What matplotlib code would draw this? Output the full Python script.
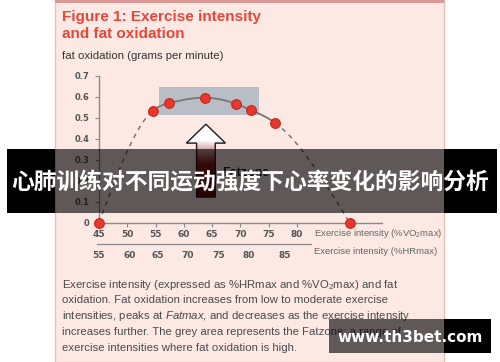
import numpy as np
import matplotlib
matplotlib.use('Agg')
import matplotlib.pyplot as plt
from matplotlib import font_manager
from matplotlib.patches import Rectangle, FancyArrow
from matplotlib.colors import LinearSegmentedColormap
from matplotlib.lines import Line2D

# ---------------- data ----------------
vo2_ticks = [45, 50, 55, 60, 65, 70, 75, 80]
hr_labels = [55, 60, 65, 70, 75, 80, 85]
hr_positions = [45, 50.5, 55.3, 60.6, 66.1, 71.5, 77.9]   # %VO2max equivalent of each %HRmax label
y_ticks = [0, 0.1, 0.2, 0.3, 0.4, 0.5, 0.6, 0.7]
y_tick_labels = ['0', '0.1', '0.2', '0.3', '0.4', '0.5', '0.6', '0.7']
intensity = [45, 54.5, 57.4, 63.7, 69.3, 71.8, 76.1, 89.3]
fat_ox = [0.0, 0.533, 0.569, 0.595, 0.565, 0.537, 0.476, 0.0]
fatzone_x = (55.6, 73.2)
fatzone_y = (0.513, 0.648)

title_lines = ["Figure 1: Exercise intensity", "and fat oxidation"]
ylabel = "fat oxidation (grams per minute)"
xlabel_vo2 = r"Exercise intensity (%VO$_2$max)"
xlabel_hr = "Exercise intensity (%HRmax)"
caption = [
    r"Exercise intensity (expressed as %HRmax and %VO$_2$max) and fat",
    "oxidation. Fat oxidation increases from low to moderate exercise",
    r"intensities, peaks at $\mathit{Fatmax}$, and decreases as the exercise intensity",
    "increases further. The grey area represents the Fatzone: a range of",
    "exercise intensities where fat oxidation is high.",
]
banner_text = "心肺训练对不同运动强度下心率变化的影响分析"
watermark = "www.th3bet.com"


def natural_spline(x, y, xs):
    """Natural cubic spline through the given points, evaluated at xs (for drawing the smooth line)."""
    x = np.asarray(x, float); y = np.asarray(y, float)
    n = len(x)
    h = np.diff(x)
    A = np.zeros((n, n)); b = np.zeros(n)
    A[0, 0] = A[-1, -1] = 1
    for i in range(1, n - 1):
        A[i, i - 1] = h[i - 1]; A[i, i] = 2 * (h[i - 1] + h[i]); A[i, i + 1] = h[i]
        b[i] = 3 * ((y[i + 1] - y[i]) / h[i] - (y[i] - y[i - 1]) / h[i - 1])
    c = np.linalg.solve(A, b)
    bb = (y[1:] - y[:-1]) / h - h * (2 * c[:-1] + c[1:]) / 3
    d = (c[1:] - c[:-1]) / (3 * h)
    idx = np.clip(np.searchsorted(x, xs) - 1, 0, n - 2)
    t = xs - x[idx]
    return y[idx] + bb[idx] * t + c[idx] * t ** 2 + d[idx] * t ** 3


# ---------------- fonts ----------------
names = {f.name for f in font_manager.fontManager.ttflist}
SANS = 'Liberation Sans' if 'Liberation Sans' in names else 'DejaVu Sans'
plt.rcParams['font.family'] = [SANS, 'DejaVu Sans']
plt.rcParams['mathtext.fontset'] = 'custom'
plt.rcParams['mathtext.rm'] = SANS
plt.rcParams['mathtext.it'] = SANS + ':italic'
plt.rcParams['mathtext.bf'] = SANS + ':bold'

W, H = 500, 362
fig = plt.figure(figsize=(W / 100, H / 100), dpi=100)
fig.patch.set_facecolor('white')

# background (pixel coords)
bg = fig.add_axes([0, 0, 1, 1], zorder=0)
bg.set_xlim(0, W); bg.set_ylim(H, 0); bg.axis('off')
bg.add_patch(Rectangle((55, 0), 389, H, facecolor='#fde9e4', edgecolor='#f2bdb7', lw=1))
bg.add_patch(Rectangle((55, 0), 389, 2.5, facecolor='#d99893', edgecolor='none'))

red = '#e8463a'
bg.text(62, 21.5, title_lines[0], color=red, fontsize=11, fontweight='bold', va='baseline', ha='left')
bg.text(62, 38, title_lines[1], color=red, fontsize=11, fontweight='bold', va='baseline', ha='left')
bg.text(62, 59, ylabel, color='#333333', fontsize=8.2, va='baseline', ha='left')

for i, line in enumerate(caption):
    bg.text(62, 287.5 + i * 15.8, line, color='#4a4a4a', fontsize=8.2, va='baseline', ha='left')

bg.text(314, 234, xlabel_vo2, color='#666666', fontsize=6.8, va='center', ha='left')
bg.text(314, 252, xlabel_hr, color='#666666', fontsize=6.8, va='center', ha='left')

# ---------------- chart axes ----------------
px_per_unit = (297 - 99) / 35.0
x0, x1 = 45, 95
y_top_px, y0_px = 75.7, 222.7
ax = fig.add_axes([99 / W, (H - y0_px) / H, (x1 - x0) * px_per_unit / W, (y0_px - y_top_px) / H], zorder=1)
ax.set_xlim(x0, x1); ax.set_ylim(0, 0.7)
ax.patch.set_alpha(0)
for s in ['top', 'right']:
    ax.spines[s].set_visible(False)
for s in ['left', 'bottom']:
    ax.spines[s].set_color('#8a8a8a'); ax.spines[s].set_linewidth(1.0)

ax.set_xticks(vo2_ticks)
ax.set_xticklabels([str(v) for v in vo2_ticks], fontsize=6.5, fontweight='bold', color='#555555', family='DejaVu Sans')
ax.set_yticks(y_ticks)
ax.set_yticklabels(y_tick_labels, fontsize=6, fontweight='bold', color='#555555', family='DejaVu Sans')
ax.tick_params(axis='x', length=3, width=0.8, color='#8a8a8a', pad=2)
ax.tick_params(axis='y', length=3, width=0.8, color='#8a8a8a', pad=4)

# second row (%HRmax)
xt = ax.get_xaxis_transform()
for lab, pos in zip(hr_labels, hr_positions):
    ax.text(pos, -0.22, str(lab), transform=xt, ha='center', va='center', fontsize=6.5,
            fontweight='bold', color='#555555', family='DejaVu Sans', clip_on=False)
ax.add_line(Line2D([44.7, 82.4], [-0.148, -0.148], transform=xt, color='#8a8a8a', lw=0.9, clip_on=False))

# fatzone box
ax.add_patch(Rectangle((fatzone_x[0], fatzone_y[0]), fatzone_x[1] - fatzone_x[0], fatzone_y[1] - fatzone_y[0],
                       facecolor='#b9bdc5', edgecolor='none', zorder=1))

# smooth curve through the measured points
xs_l = np.linspace(intensity[0], intensity[1], 60)
xs_m = np.linspace(intensity[1], intensity[-2], 100)
xs_r = np.linspace(intensity[-2], intensity[-1], 60)
ax.plot(xs_l, natural_spline(intensity, fat_ox, xs_l), color='#777777', lw=1.1, ls=(0, (3, 3)), zorder=2)
ax.plot(xs_m, natural_spline(intensity, fat_ox, xs_m), color='#777777', lw=1.3, zorder=2)
ax.plot(xs_r, natural_spline(intensity, fat_ox, xs_r), color='#777777', lw=1.1, ls=(0, (3, 3)), zorder=2)
ax.plot(intensity, fat_ox, 'o', ms=7, mfc='#e8372c', mec='#c4261c', mew=0.8, zorder=5, clip_on=False)

# arrow
arrow = FancyArrow(63.9, 0.122, 0, 0.347, width=3.3, head_width=6.9, head_length=0.09,
                   length_includes_head=True, facecolor='none', edgecolor='#1a1a1a', lw=1.0, zorder=4)
ax.add_patch(arrow)
cm = LinearSegmentedColormap.from_list('g', [(0, '#6a0a0a'), (0.45, '#8e1616'), (0.78, '#ffffff'), (1, '#ffffff')])
grad = np.linspace(0, 1, 256).reshape(-1, 1)
im = ax.imshow(grad, cmap=cm, extent=[60, 68, 0.122, 0.469], origin='lower', aspect='auto', zorder=3)
im.set_clip_path(arrow)
ax.text(66.7, 0.222, "Fatzone", fontsize=9, fontweight='bold', color='#222222', va='baseline', ha='left')
ax.set_xlim(x0, x1); ax.set_ylim(0, 0.7)

# ---------------- overlays ----------------
ov = fig.add_axes([0, 0, 1, 1], zorder=10)
ov.set_xlim(0, W); ov.set_ylim(H, 0); ov.axis('off'); ov.patch.set_alpha(0)
ov.add_patch(Rectangle((7, 149), 48, 64, facecolor='black', edgecolor='none'))
ov.add_patch(Rectangle((444, 149), 53, 64, facecolor='black', edgecolor='none'))
ov.add_patch(Rectangle((55, 149), 389, 64, facecolor='black', alpha=0.62, edgecolor='none'))
ov.text(250, 183, banner_text, color='white', fontsize=16.4, fontweight='bold', ha='center', va='center',
        family=['Noto Sans CJK SC', 'DejaVu Sans'])
ov.add_patch(Rectangle((444, 319), 47, 34, facecolor='black', edgecolor='none'))
ov.add_patch(Rectangle((329, 319), 115, 34, facecolor='black', alpha=0.62, edgecolor='none'))
ov.text(410, 337, watermark, color='white', fontsize=11, fontweight='bold', ha='center', va='center',
        family='DejaVu Sans')

fig.savefig('out.png', dpi=100)
